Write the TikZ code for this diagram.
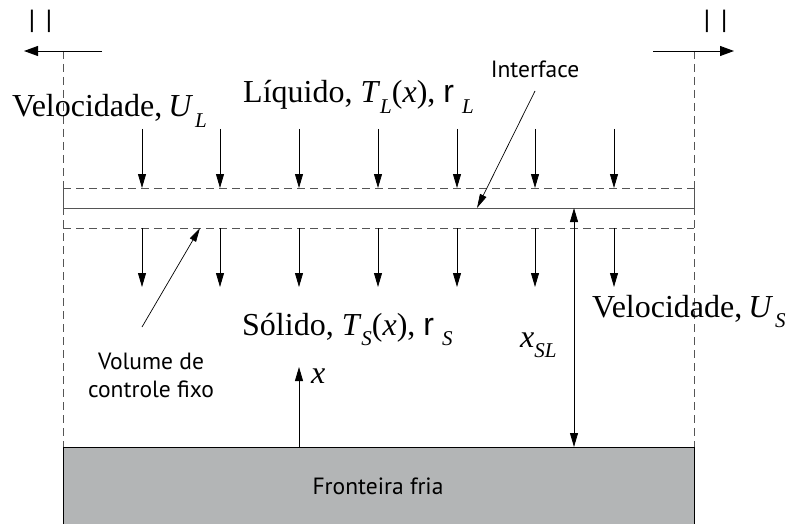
\documentclass[tikz,border=0pt]{standalone}
\usepackage{fontspec}
\setmainfont{Liberation Serif}
\newfontfamily\labfont{PT Sans}
\newfontfamily\arialfont{Liberation Sans}
\usetikzlibrary{arrows.meta}
\definecolor{boxgray}{RGB}{179,181,182}
\definecolor{linegray}{RGB}{85,85,85}
\newcommand\subsc[1]{\raisebox{-0.34em}{\fontsize{21}{21}\selectfont\textit{#1}}}
\begin{document}
\begin{tikzpicture}[x=1pt,y=-1pt,
  tip/.style={-{Triangle[length=14pt,width=8pt]},line width=0.8pt},
  bigtip/.style={-{Triangle[length=14pt,width=10pt]},line width=0.9pt},
  dbltip/.style={{Triangle[length=14pt,width=8pt]}-{Triangle[length=14pt,width=8pt]},line width=0.8pt},
  leader/.style={-{Triangle[length=14pt,width=7pt]},line width=0.7pt},
  dashline/.style={dashed,dash pattern=on 8pt off 5pt,draw=linegray,line width=0.9pt},
  serif/.style={font=\fontsize{32}{36}\selectfont,inner sep=0pt},
  sanslab/.style={font=\labfont\fontsize{23.5}{28}\selectfont,inner sep=0pt,align=center},
  bars/.style={font=\arialfont\fontsize{24}{24}\selectfont,inner sep=0pt}]
\useasboundingbox (0,0) rectangle (795,524);
% cold boundary
\fill[boxgray] (63,447) rectangle (694,524);
\draw[line width=0.9pt] (63,524) -- (63,447) -- (694,447) -- (694,524);
\node[sanslab] (fria) at (378,486) {Fronteira fria};
% dashed verticals
\draw[dashline] (63,51) -- (63,447);
\draw[dashline] (694,51) -- (694,447);
% top arrows and bars
\coordinate (tl1) at (102,51); \coordinate (tl2) at (24,51);
\coordinate (tr1) at (653,51); \coordinate (tr2) at (734,51);
\draw[bigtip] (tl1) -- (tl2);
\draw[bigtip] (tr1) -- (tr2);
\node[bars] (barsL) at (40.5,21.5) {|\hspace{11pt}|};
\node[bars] (barsR) at (715.5,21.5) {|\hspace{11pt}|};
% control volume and interface
\draw[dashline] (63,188) -- (694,188);
\draw[dashline] (63,228) -- (694,228);
\draw[linegray,line width=1pt] (63,188) -- (63,208) -- (694,208) -- (694,188);
% velocity arrows
\foreach \x in {142,220,299,378,457,535,614}{
  \coordinate (a\x) at (\x,129); \coordinate (b\x) at (\x,188);
  \coordinate (c\x) at (\x,228); \coordinate (d\x) at (\x,287);
  \draw[tip] (a\x) -- (b\x);
  \draw[tip] (c\x) -- (d\x);
}
% x_SL
\coordinate (s1) at (574,208); \coordinate (s2) at (574,447);
\draw[dbltip] (s1) -- (s2);
\node[serif,anchor=base west] (xsl) at (520,347) {\textit{x}\subsc{SL}};
% x arrow
\coordinate (x1) at (299,447); \coordinate (x2) at (299,367);
\draw[tip] (x1) -- (x2);
\node[serif,anchor=base west] (xl) at (311,383) {\textit{x}};
% labels
\node[serif,anchor=base west] (vl) at (12,117) {Velocidade,\hspace{6pt}\textit{U}\hspace{2pt}\subsc{L}};
\node[serif,anchor=base west] (liq) at (243,103) {Líquido, \textit{T}\subsc{L}(\textit{x}), {\arialfont r}\ \subsc{L}};
\node[serif,anchor=base west] (sol) at (242,335) {Sólido, \textit{T}\subsc{S}(\textit{x}), {\arialfont r}\ \subsc{S}};
\node[serif,anchor=base west] (vs) at (592,317) {Velocidade,\hspace{6pt}\textit{U}\hspace{2pt}\subsc{S}};
\node[sanslab] (intf) at (535,69) {Interface};
\node[sanslab] (vcf) at (151,375) {Volume de\\controle fixo};
\coordinate (i1) at (535,91); \coordinate (i2) at (477,208);
\draw[leader] (i1) -- (i2);
\coordinate (v1) at (142,327); \coordinate (v2) at (200,228);
\draw[leader] (v1) -- (v2);
\end{tikzpicture}
\end{document}
